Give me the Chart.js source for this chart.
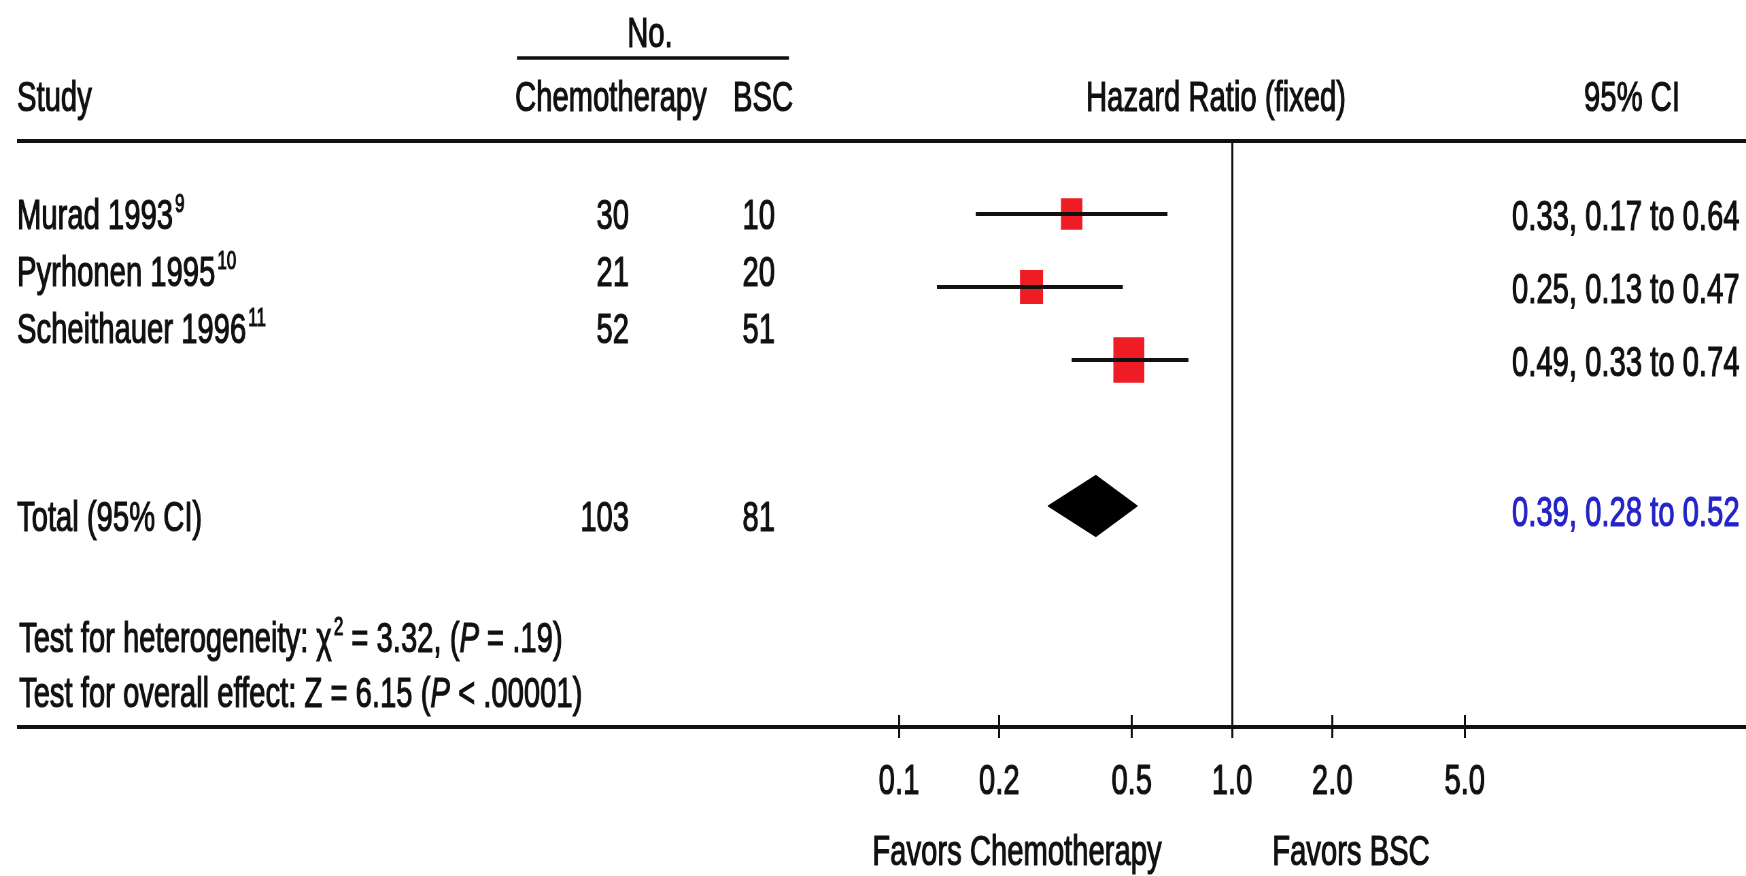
<!DOCTYPE html>
<html>
<head>
<meta charset="utf-8">
<title>Chemotherapy vs BSC - hazard ratio</title>
<script src="https://cdn.jsdelivr.net/npm/chart.js@4.4.1/dist/chart.umd.min.js"></script>
<style>
  html, body { margin: 0; padding: 0; background: #fff; }
  #plot { display: block; }
</style>
</head>
<body>
<!-- drawn wider and squeezed by css, so text and marks come out tall and narrow like the scan -->
<canvas id="plot" width="2568" height="876" style="width:1746px;height:876px"></canvas>
<script>
// data
const studies = ['Murad 1993', 'Pyrhonen 1995', 'Scheithauer 1996'];
const studyRefs = ['9', '10', '11'];
const chemoCounts = [30, 21, 52];
const bscCounts = [10, 20, 51];
const hazardRatios = [0.33, 0.25, 0.49];
const ciLower = [0.17, 0.13, 0.33];
const ciUpper = [0.64, 0.47, 0.74];
const totalCounts = [103, 81];
const totalHr = [0.39, 0.28, 0.52]; // estimate, lower, upper
const heterogeneity = ['3.32', '.19']; // chi2, P
const overallEffect = ['6.15', '.00001']; // Z, P
const tickValues = [0.1, 0.2, 0.5, 1, 2, 5];
const tickLabels = ['0.1', '0.2', '0.5', '1.0', '2.0', '5.0'];

// layout (page pixels are converted to canvas pixels with px())
const W = 2568, H = 876;
const SX = 1746 / W;
const px = v => v / SX;
const FONT = '"Liberation Sans", Arial, Helvetica, sans-serif';
const INK = '#111';
const rowTop = 141;      // top rule
const rowStep = 73;      // forest rows
const plotBottom = 715;  // top of the tick marks
const boxRadius = [22.3, 24, 32.2];

function fontFor(style) {
    if (style === 'sup') return '25px ' + FONT;
    if (style === 'i') return 'italic 43px ' + FONT;
    return '43px ' + FONT;
}

// draws pieces like [['text'], ['2', 'sup'], ['P', 'i']] on one baseline
function drawRun(ctx, x, y, pieces, align) {
    let total = 0;
    pieces.forEach(([t, s]) => {
        ctx.font = fontFor(s);
        total += ctx.measureText(t).width + (s === 'sup' ? 3 : 0);
    });
    if (align === 'right') x -= total;
    if (align === 'center') x -= total / 2;
    ctx.textAlign = 'left';
    ctx.textBaseline = 'alphabetic';
    ctx.strokeStyle = ctx.fillStyle;
    ctx.lineWidth = 1.2; // scan text is a bit heavier
    pieces.forEach(([t, s]) => {
        ctx.font = fontFor(s);
        if (s === 'sup') x += 3;
        const ty = s === 'sup' ? y - 17 : y;
        ctx.fillText(t, x, ty);
        ctx.strokeText(t, x, ty);
        x += ctx.measureText(t).width;
    });
}

function rule(ctx, x1, x2, y, w) {
    ctx.beginPath();
    ctx.strokeStyle = INK;
    ctx.lineWidth = w;
    ctx.moveTo(x1, y);
    ctx.lineTo(x2, y);
    ctx.stroke();
}

function ciText(hr, lo, hi) {
    return hr.toFixed(2) + ', ' + lo.toFixed(2) + ' to ' + hi.toFixed(2);
}

// table text and rules around the plot
const tablePlugin = {
    id: 'forestTable',
    afterDraw(chart) {
        const ctx = chart.ctx;
        const yAxis = chart.scales.y;
        ctx.save();
        ctx.fillStyle = INK;

        rule(ctx, px(17), W, rowTop, 4);
        rule(ctx, px(517), px(789), 58, 3.5);
        rule(ctx, px(17), W, 727, 4);

        drawRun(ctx, px(650), 47, [['No.']], 'center');
        drawRun(ctx, px(17), 111, [['Study']]);
        drawRun(ctx, px(515), 111, [['Chemotherapy']]);
        drawRun(ctx, px(733), 111, [['BSC']]);
        drawRun(ctx, px(1216), 111, [['Hazard Ratio (fixed)']], 'center');
        drawRun(ctx, px(1632), 111, [['95% CI']], 'center');

        studies.forEach((name, i) => {
            const base = 229 + i * 57;
            drawRun(ctx, px(17), base, [[name], [studyRefs[i], 'sup']]);
            drawRun(ctx, px(629), base, [[String(chemoCounts[i])]], 'right');
            drawRun(ctx, px(775), base, [[String(bscCounts[i])]], 'right');
            const yRow = yAxis.getPixelForValue(i + 1) + 16;
            drawRun(ctx, px(1512), yRow, [[ciText(hazardRatios[i], ciLower[i], ciUpper[i])]]);
        });

        const totalY = yAxis.getPixelForValue(5);
        drawRun(ctx, px(17), totalY + 25, [['Total (95% CI)']]);
        drawRun(ctx, px(629), totalY + 25, [[String(totalCounts[0])]], 'right');
        drawRun(ctx, px(775), totalY + 25, [[String(totalCounts[1])]], 'right');
        ctx.fillStyle = '#2424c8';
        drawRun(ctx, px(1512), totalY + 20, [[ciText(totalHr[0], totalHr[1], totalHr[2])]]);
        ctx.fillStyle = INK;

        drawRun(ctx, px(19), 652, [['Test for heterogeneity: χ'], ['2', 'sup'],
            [' = ' + heterogeneity[0] + ', ('], ['P', 'i'], [' = ' + heterogeneity[1] + ')']]);
        drawRun(ctx, px(19), 707, [['Test for overall effect: Z = ' + overallEffect[0] + ' ('],
            ['P', 'i'], [' < ' + overallEffect[1] + ')']]);

        drawRun(ctx, px(1017), 865, [['Favors Chemotherapy']], 'center');
        drawRun(ctx, px(1351), 865, [['Favors BSC']], 'center');
        ctx.restore();
    }
};

// whiskers, one line per study
const whiskers = studies.map((s, i) => ({
    type: 'line',
    data: [{ x: ciLower[i], y: i + 1 }, { x: ciUpper[i], y: i + 1 }],
    borderColor: INK,
    borderWidth: 4,
    pointRadius: 0,
    order: 0
}));

const leftPad = px(899);            // value 0.1
const decade = px(1232 - 899);      // 0.1 -> 1.0

new Chart(document.getElementById('plot'), {
    type: 'scatter',
    data: {
        datasets: [
            ...whiskers,
            {
                data: hazardRatios.map((v, i) => ({ x: v, y: i + 1 })),
                pointStyle: 'rect',
                pointRadius: boxRadius,
                backgroundColor: '#ee1c24',
                borderWidth: 0,
                order: 1
            },
            {
                type: 'line',
                data: [
                    { x: totalHr[1], y: 5 },
                    { x: totalHr[0], y: 5 - 0.42 },
                    { x: totalHr[2], y: 5 },
                    { x: totalHr[0], y: 5 + 0.42 },
                    { x: totalHr[1], y: 5 }
                ],
                borderColor: '#000',
                backgroundColor: '#000',
                borderWidth: 1,
                fill: 'shape',
                pointRadius: 0,
                order: 0
            }
        ]
    },
    options: {
        responsive: false,
        animation: false,
        devicePixelRatio: 1,
        events: [],
        layout: { padding: { left: leftPad, right: W - leftPad - 2 * decade, top: rowTop, bottom: 0 } },
        plugins: { legend: { display: false }, tooltip: { enabled: false } },
        scales: {
            x: {
                type: 'logarithmic',
                min: 0.1,
                max: 10,
                afterBuildTicks: axis => { axis.ticks = tickValues.map(v => ({ value: v })); },
                afterFit: axis => { axis.height = H - plotBottom; },
                border: { display: false },
                grid: {
                    drawOnChartArea: true,
                    color: c => (c.tick && c.tick.value === 1 ? INK : 'rgba(0,0,0,0)'),
                    lineWidth: 3,
                    tickColor: INK,
                    tickWidth: 3,
                    tickLength: 23
                },
                ticks: {
                    autoSkip: false,
                    maxRotation: 0,
                    padding: 18,
                    color: INK,
                    textStrokeColor: INK,
                    textStrokeWidth: 1.2,
                    font: { family: FONT, size: 43 },
                    callback: (v, i) => tickLabels[i]
                }
            },
            y: {
                display: false,
                reverse: true,
                min: 0,
                max: (plotBottom - rowTop) / rowStep
            }
        }
    },
    plugins: [tablePlugin]
});
</script>
</body>
</html>
